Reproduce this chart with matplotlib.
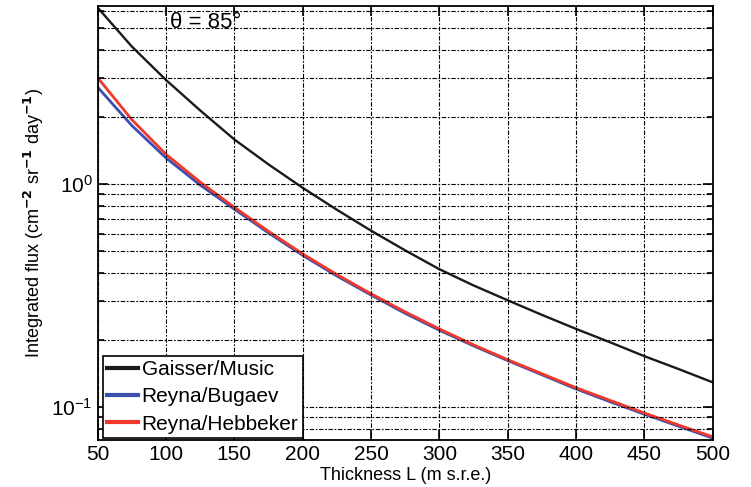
import matplotlib
matplotlib.use("Agg")
import matplotlib.pyplot as plt
import numpy as np
from matplotlib.ticker import LogLocator, NullFormatter, FixedLocator

plt.rcParams['font.family'] = ['Liberation Sans', 'DejaVu Sans']

thickness = [50, 75, 100, 125, 150, 175, 200, 225, 250, 275, 300, 325, 350, 375, 400, 425, 450, 475, 500]
gaisser_music = [6.19, 4.14, 2.93, 2.14, 1.585, 1.225, 0.962, 0.767, 0.618, 0.504, 0.415, 0.351, 0.301, 0.259,
                 0.224, 0.195, 0.169, 0.148, 0.129]
reyna_bugaev = [2.72, 1.83, 1.31, 0.99, 0.772, 0.604, 0.479, 0.387, 0.318, 0.263, 0.221, 0.188, 0.1615, 0.1395,
                0.1205, 0.1055, 0.0928, 0.082, 0.0725]
reyna_hebbeker = [3.0, 1.945, 1.36, 1.021, 0.787, 0.614, 0.486, 0.393, 0.322, 0.267, 0.224, 0.19, 0.163, 0.141,
                  0.122, 0.107, 0.094, 0.083, 0.0735]
labels = ["Gaisser/Music", "Reyna/Bugaev", "Reyna/Hebbeker"]
x_ticks = [50, 100, 150, 200, 250, 300, 350, 400, 450, 500]

fig = plt.figure(figsize=(7.51, 4.87), dpi=100)
ax = fig.add_axes([0.130, 0.0965, 0.819, 0.8915])

ax.plot(thickness, gaisser_music, color='#1a1a1a', lw=1.7, label=labels[0])
ax.plot(thickness, reyna_bugaev, color='#3a4fb0', lw=2.0, label=labels[1])
ax.plot(thickness, reyna_hebbeker, color='#f0392b', lw=2.0, label=labels[2])

ax.set_yscale('log')
ax.set_xlim(50, 500)
ax.set_ylim(0.0711, 6.3)
ax.xaxis.set_major_locator(FixedLocator(x_ticks))
ax.yaxis.set_major_locator(LogLocator(base=10, numticks=10))
ax.yaxis.set_minor_locator(LogLocator(base=10, subs=np.arange(2, 10), numticks=20))
ax.yaxis.set_minor_formatter(NullFormatter())

gs = dict(color='black', lw=0.8, linestyle=(0, (1.5, 1.5, 4, 1.5)))
ax.grid(True, which='major', axis='both', **gs)
ax.grid(True, which='minor', axis='y', **gs)
ax.set_axisbelow(False)

ax.tick_params(which='both', direction='in', top=True, right=True, labelsize=15, width=1.2)
ax.tick_params(which='major', length=7)
ax.tick_params(which='minor', length=4)
for s in ax.spines.values():
    s.set_linewidth(1.3)

ax.set_xlabel("Thickness L (m s.r.e.)", fontsize=13, labelpad=2)
ax.set_ylabel("Integrated flux (cm$^{\\mathbf{-2}}$ sr$^{\\mathbf{-1}}$ day$^{\\mathbf{-1}}$)", fontsize=13, labelpad=4)

ax.text(103, 5.33, "θ = 85°", fontsize=16, va='center', ha='left')

leg = ax.legend(loc='lower left', bbox_to_anchor=(0.009, 0.005), fontsize=15,
                frameon=True, fancybox=False, framealpha=1, edgecolor='black',
                handlelength=1.45, handletextpad=0.2, labelspacing=0.4, borderpad=0.2,
                borderaxespad=0)
leg.get_frame().set_linewidth(1.2)
for line in leg.get_lines():
    line.set_linewidth(3)

fig.savefig("out.png", dpi=100)
